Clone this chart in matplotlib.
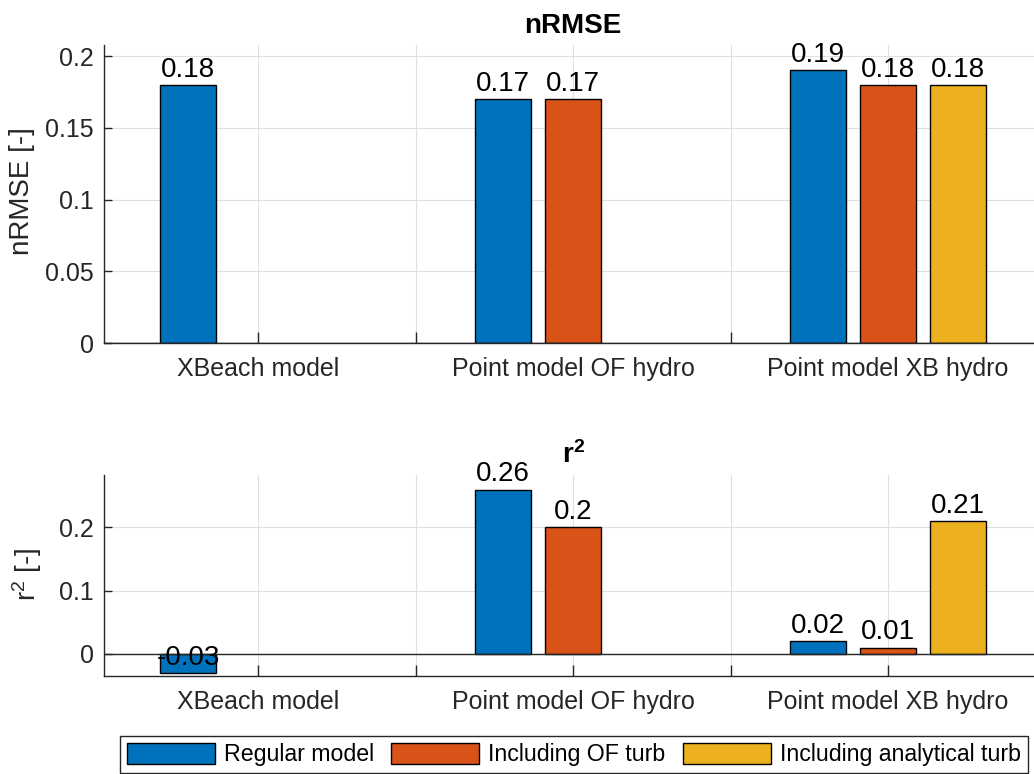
"""
Grouped bar charts of nRMSE and r^2 for the XBeach model and the two
point-model variants, with and without turbulence forcing.
"""

import numpy as np
import matplotlib
matplotlib.use("Agg")
import matplotlib.pyplot as plt


# ---------------------------------------------------------------------------
# Data (None = no bar for that combination)
# ---------------------------------------------------------------------------
groups = ["XBeach model", "Point model OF hydro", "Point model XB hydro"]
series = ["Regular model", "Including OF turb", "Including analytical turb"]

nrmse_regular = [0.18, 0.17, 0.19]
nrmse_of_turb = [None, 0.17, 0.18]
nrmse_analytical = [None, None, 0.18]

r2_regular = [-0.03, 0.26, 0.02]
r2_of_turb = [None, 0.20, 0.01]
r2_analytical = [None, None, 0.21]

nrmse_yticks = [0, 0.05, 0.1, 0.15, 0.2]
r2_yticks = [0, 0.1, 0.2]


# ---------------------------------------------------------------------------
# Style (MATLAB-like defaults)
# ---------------------------------------------------------------------------
plt.rcParams.update({
    "font.family": ["Liberation Sans", "DejaVu Sans"],
    "mathtext.fontset": "custom",
    "mathtext.rm": "Liberation Sans",
    "mathtext.bf": "Liberation Sans:bold",
    "mathtext.it": "Liberation Sans:italic",
    "axes.edgecolor": "#262626",
    "axes.linewidth": 1.0,
    "xtick.color": "#262626",
    "ytick.color": "#262626",
    "figure.facecolor": "white",
})

colors = ["#0072BD", "#D95319", "#EDB120"]
offsets = [-0.2222, 0.0, 0.2222]
bar_width = 0.178

TICK_FS = 18
LABEL_FS = 20
VALUE_FS = 20
LEGEND_FS = 16.65


def draw_panel(ax, values, title, ylabel, yticks, ylim):
    handles = []
    for vals, color, off, name in zip(values, colors, offsets, series):
        xs = [i + 1 + off for i, v in enumerate(vals) if v is not None]
        hs = [v for v in vals if v is not None]
        bars = ax.bar(xs, hs, width=bar_width, color=color,
                      edgecolor="black", linewidth=1.0, label=name, zorder=2)
        handles.append(bars)
        for x, h in zip(xs, hs):
            ax.annotate(f"{h:g}", (x, h), xytext=(0, 1.5),
                        textcoords="offset points", ha="center",
                        va="bottom", fontsize=VALUE_FS, color="black",
                        zorder=4)

    # zero line across the panel
    ax.axhline(0, color="#262626", linewidth=1.0, zorder=2.5)

    ax.set_xlim(0.512, 3.488)
    ax.set_ylim(*ylim)

    ax.set_xticks([1, 1.5, 2, 2.5, 3])
    ax.set_xticklabels([groups[0], "", groups[1], "", groups[2]])
    ax.set_yticks(yticks)
    ax.set_yticklabels([f"{t:g}" for t in yticks])

    ax.tick_params(axis="x", direction="in", length=8, width=1.0,
                   pad=10, labelsize=TICK_FS)
    ax.tick_params(axis="y", direction="in", length=6, width=1.0,
                   pad=7.5, labelsize=TICK_FS)

    ax.grid(True, color="#e0e0e0", linewidth=0.8)
    ax.set_axisbelow(True)
    ax.spines["top"].set_visible(False)
    ax.spines["right"].set_visible(False)

    ax.set_title(title, fontsize=LABEL_FS, fontweight="bold", pad=8.7)
    ax.set_ylabel(ylabel, fontsize=LABEL_FS, color="#262626")
    return handles


fig = plt.figure(figsize=(10.34, 7.74), dpi=100)

ax_top = fig.add_axes([0.1009, 0.5568, 0.9066, 0.385])
ax_bot = fig.add_axes([0.1009, 0.1266, 0.9066, 0.2597])

handles = draw_panel(ax_top, [nrmse_regular, nrmse_of_turb, nrmse_analytical],
                     "nRMSE", "nRMSE [-]", nrmse_yticks, (0, 0.2077))
draw_panel(ax_bot, [r2_regular, r2_of_turb, r2_analytical],
           r"$\mathbf{r^2}$", r"r$^2$ [-]", r2_yticks, (-0.035, 0.283))

ax_top.yaxis.set_label_coords(-0.074, 0.51)
ax_bot.yaxis.set_label_coords(-0.064, 0.507)

leg = fig.legend(handles, series, loc="upper center", ncol=3,
                 bbox_to_anchor=(574 / 1034, 1 - 736 / 774),
                 fontsize=LEGEND_FS, frameon=True, fancybox=False,
                 edgecolor="#262626", framealpha=1.0,
                 handlelength=3.8, handleheight=1.0, handletextpad=0.4,
                 columnspacing=0.75, borderpad=0.3, borderaxespad=0)
leg.get_frame().set_linewidth(1.0)

fig.savefig("out.png", dpi=100)
